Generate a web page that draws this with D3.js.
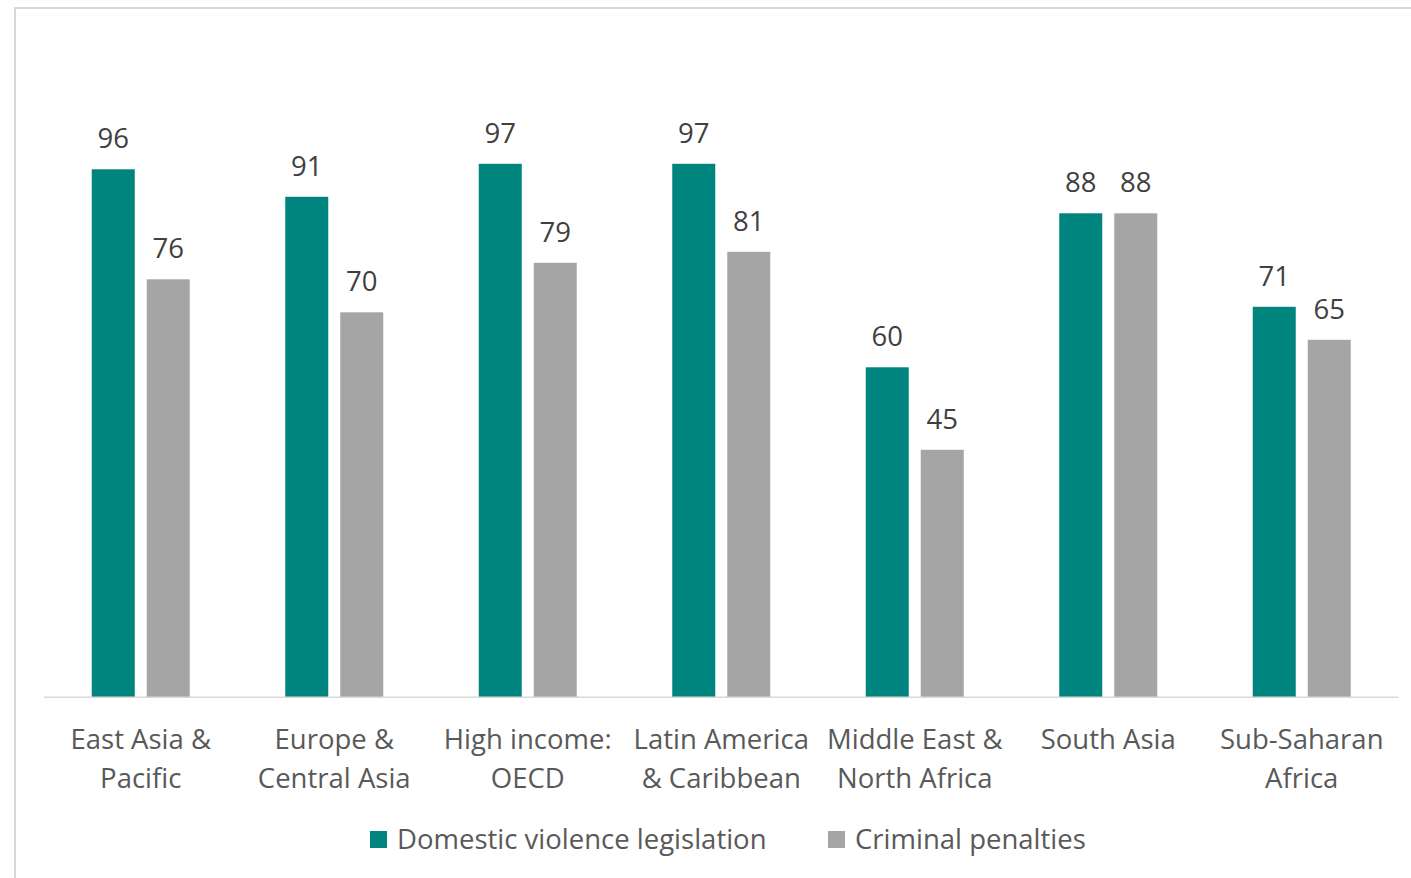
<!DOCTYPE html>
<html>
<head>
<meta charset="utf-8">
<script src="https://cdn.jsdelivr.net/npm/d3@7"></script>
<style>
  html, body { margin: 0; padding: 0; background: #fff; }
  svg { display: block; }
  text { font-family: "Open Sans", "Noto Sans", sans-serif; }
</style>
</head>
<body>
<svg id="chart" width="1411" height="878"></svg>
<script>
// Regional shares (%) of economies with domestic violence legislation and criminal penalties
const regions = [
  ["East Asia &", "Pacific"],
  ["Europe &", "Central Asia"],
  ["High income:", "OECD"],
  ["Latin America", "& Caribbean"],
  ["Middle East &", "North Africa"],
  ["South Asia"],
  ["Sub-Saharan", "Africa"]
];
const seriesNames = ["Domestic violence legislation", "Criminal penalties"];
const legislation = [96, 91, 97, 97, 60, 88, 71];
const penalties   = [76, 70, 79, 81, 45, 88, 65];
const colors = ["#00847E", "#A5A5A5"];

const svg = d3.select("#chart");

// outer frame
svg.append("rect")
  .attr("x", 15).attr("y", 8)
  .attr("width", 1420).attr("height", 900)
  .attr("fill", "none")
  .attr("stroke", "#d9d9d9")
  .attr("stroke-width", 2);

const plot = { left: 44, right: 1398.5, top: 37.3, bottom: 697.3 };

const x0 = d3.scaleBand()
  .domain(d3.range(regions.length))
  .range([plot.left, plot.right])
  .paddingInner(0).paddingOuter(0);

const x1 = d3.scaleBand()
  .domain([0, 1])
  .range([-49, 49])
  .paddingInner(0.218);

const y = d3.scaleLinear()
  .domain([0, 120])
  .range([plot.bottom, plot.top]);

const rows = regions.map((r, i) => ({
  i,
  values: [legislation[i], penalties[i]]
}));

const groups = svg.append("g").selectAll("g")
  .data(rows)
  .join("g")
  .attr("transform", d => `translate(${x0(d.i) + x0.bandwidth() / 2},0)`);

const cells = groups.selectAll("g.cell")
  .data(d => d.values.map((v, s) => ({ v, s })))
  .join("g").attr("class", "cell");

cells.append("rect")
  .attr("x", d => x1(d.s))
  .attr("width", x1.bandwidth())
  .attr("y", d => y(d.v))
  .attr("height", d => y(0) - y(d.v))
  .attr("fill", d => colors[d.s]);

cells.append("text")
  .attr("x", d => x1(d.s) + x1.bandwidth() / 2)
  .attr("y", d => y(d.v) - 21)
  .attr("text-anchor", "middle")
  .attr("font-size", 27.5)
  .attr("fill", "#404040")
  .text(d => d.v);

// category axis baseline
svg.append("line")
  .attr("x1", plot.left).attr("x2", plot.right)
  .attr("y1", plot.bottom).attr("y2", plot.bottom)
  .attr("stroke", "#d9d9d9")
  .attr("stroke-width", 1.5);

// category labels
const catLabels = svg.append("g").selectAll("text")
  .data(regions)
  .join("text")
  .attr("x", (d, i) => x0(i) + x0.bandwidth() / 2)
  .attr("y", 749)
  .attr("text-anchor", "middle")
  .attr("font-size", 27.5)
  .attr("fill", "#595959");
catLabels.selectAll("tspan")
  .data(d => d)
  .join("tspan")
  .attr("x", function() { return this.parentNode.getAttribute("x"); })
  .attr("dy", (d, j) => j === 0 ? 0 : 38.7)
  .text(d => d);

// legend
const legendItems = [
  { name: seriesNames[0], color: colors[0], x: 370 },
  { name: seriesNames[1], color: colors[1], x: 828 }
];
const legend = svg.append("g").selectAll("g")
  .data(legendItems)
  .join("g")
  .attr("transform", d => `translate(${d.x},831)`);
legend.append("rect")
  .attr("width", 17).attr("height", 17)
  .attr("fill", d => d.color);
legend.append("text")
  .attr("x", 27).attr("y", 18)
  .attr("font-size", 27.5)
  .attr("fill", "#595959")
  .text(d => d.name);
</script>
</body>
</html>
